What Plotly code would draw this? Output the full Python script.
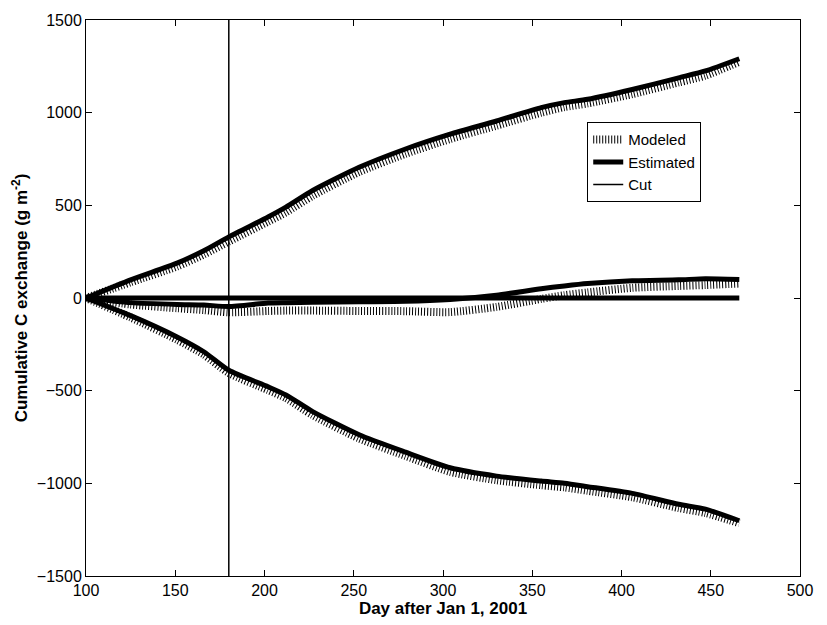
import plotly.graph_objects as go

# Day of year (counted from Jan 1, 2001)
days = [100, 125, 151, 166, 180, 202, 212, 227, 253, 279, 304, 330, 355, 368, 381, 406, 432, 447, 466]

# Cumulative respiration (positive)
resp_est = [0, 98, 188, 255, 330, 437, 490, 580, 705, 804, 884, 955, 1027, 1054, 1072, 1125, 1188, 1225, 1291]
resp_mod = [0, 85, 170, 235, 305, 412, 462, 552, 680, 778, 858, 930, 1000, 1030, 1050, 1100, 1163, 1200, 1275]

# Cumulative gross uptake (negative)
gpp_est = [0, -95, -210, -290, -390, -479, -523, -613, -738, -832, -916, -961, -988, -1000, -1018, -1054, -1113, -1139, -1202]
gpp_mod = [0, -105, -225, -305, -405, -497, -540, -632, -758, -852, -938, -983, -1010, -1022, -1040, -1075, -1133, -1160, -1215]

# Cumulative net exchange
nee_est = [0, -25, -35, -38, -46, -27, -25, -23, -20, -18, -8, 15, 50, 65, 78, 93, 98, 104, 100]
nee_mod = [0, -35, -55, -65, -77, -70, -68, -68, -70, -71, -76, -48, -5, 15, 30, 55, 65, 70, 78]

# Zero reference and the cut day
zero_days = [100, 466]
zero_vals = [0, 0]
cut_day = 180
y_range = [-1500, 1500]

FONT = "Liberation Sans, Arial, sans-serif"

fig = go.Figure()

modeled_style = dict(color="black", width=8, dash="1px,2px")
estimated_style = dict(color="black", width=5)

series = [(resp_mod, resp_est), (gpp_mod, gpp_est), (nee_mod, nee_est)]
for i, (mod, est) in enumerate(series):
    fig.add_trace(go.Scatter(
        x=days, y=mod, mode="lines", name="Modeled", legendgroup="mod",
        showlegend=(i == 0), line=dict(**modeled_style, shape="spline", smoothing=0.6),
    ))
for i, (mod, est) in enumerate(series):
    fig.add_trace(go.Scatter(
        x=days, y=est, mode="lines", name="Estimated", legendgroup="est",
        showlegend=(i == 0), line=dict(**estimated_style, shape="spline", smoothing=0.6),
    ))

fig.add_trace(go.Scatter(
    x=zero_days, y=zero_vals, mode="lines", showlegend=False,
    line=dict(color="black", width=5),
))

fig.add_trace(go.Scatter(
    x=[cut_day, cut_day], y=y_range, mode="lines", name="Cut",
    line=dict(color="black", width=1.5),
))

axis_common = dict(
    showgrid=False, zeroline=False, showline=True, linecolor="black", linewidth=1,
    mirror="allticks", ticks="inside", ticklen=6, tickcolor="black",
    tickfont=dict(family=FONT, size=16, color="black"),
)

fig.update_xaxes(
    range=[100, 500], tickvals=list(range(100, 501, 50)),
    title=dict(text="<b>Day after Jan 1, 2001</b>", font=dict(family=FONT, size=17, color="black"), standoff=0),
    **axis_common,
)
fig.update_yaxes(
    range=y_range, tickvals=list(range(-1500, 1501, 500)),
    title=dict(text="<b>Cumulative C exchange (g m<sup>-2</sup>)</b>", font=dict(family=FONT, size=17, color="black"), standoff=4),
    **axis_common,
)

fig.update_layout(
    width=827, height=625,
    margin=dict(l=86, r=27, t=15, b=49),
    paper_bgcolor="white", plot_bgcolor="white",
    showlegend=True,
    legend=dict(
        x=0.702, y=0.816, xanchor="left", yanchor="top",
        bgcolor="white", bordercolor="black", borderwidth=1,
        font=dict(family=FONT, size=15, color="black"),
        tracegroupgap=0, itemwidth=30,
    ),
)

fig.write_html("out.html")
